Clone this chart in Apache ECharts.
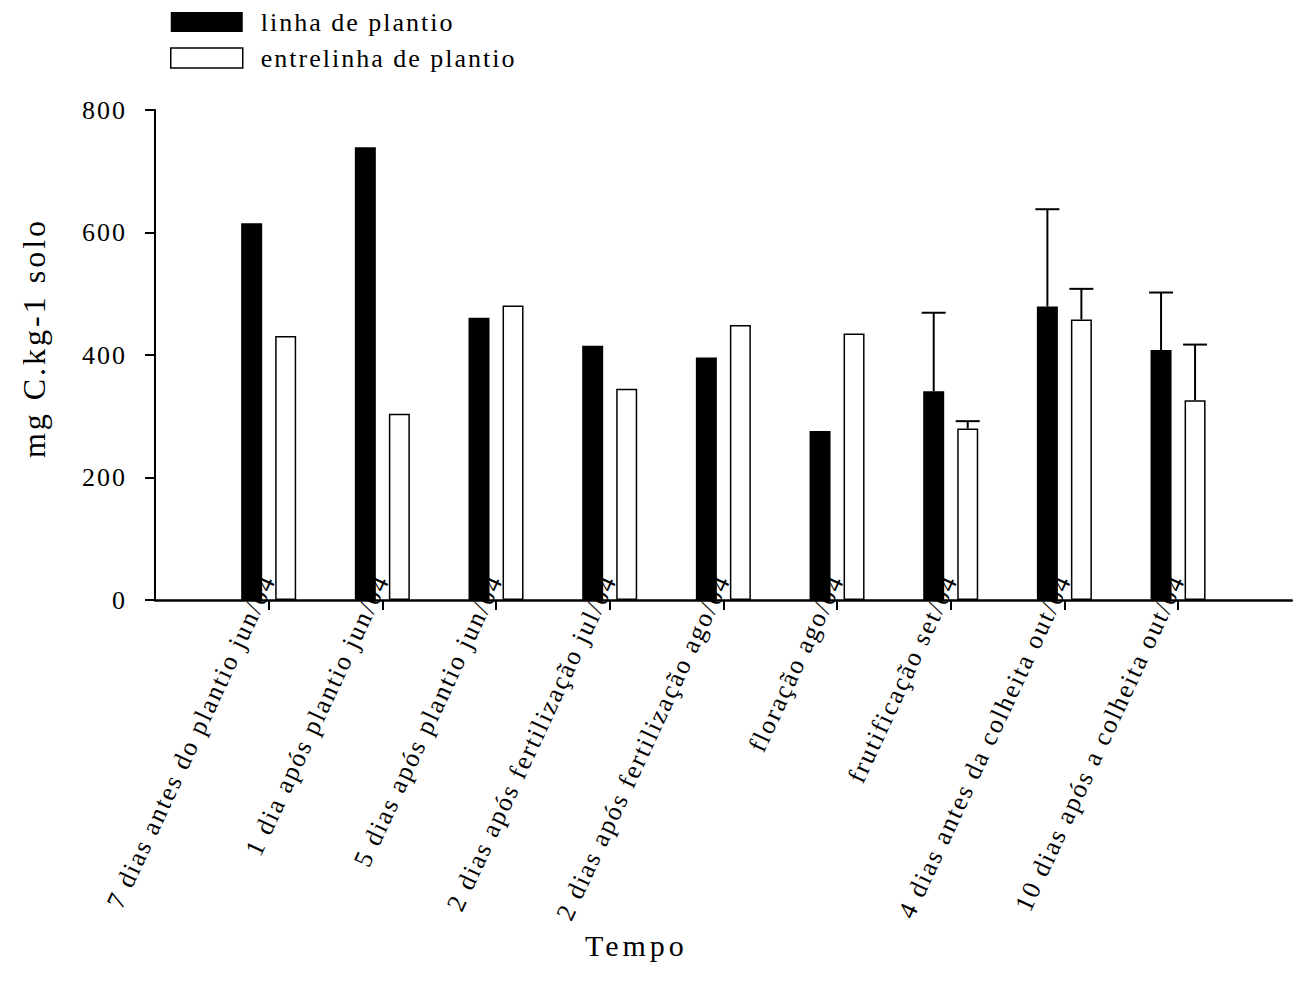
<!DOCTYPE html>
<html>
<head>
<meta charset="utf-8">
<script src="https://cdn.jsdelivr.net/npm/echarts@6/dist/echarts.min.js"></script>
<style>
html,body{margin:0;padding:0;background:#fff;}
#chart{width:1293px;height:990px;}
#chart text{letter-spacing:2px;}
#chart text[style*="32px"]{letter-spacing:3px;}
#chart text[style*="30px"]{letter-spacing:4px;}
</style>
</head>
<body>
<div id="chart"></div>
<script>
const categories = [
  '7 dias antes do plantio jun/04',
  '1 dia após plantio jun/04',
  '5 dias após plantio jun/04',
  '2 dias após fertilização jul/04',
  '2 dias após fertilização ago/04',
  'floração ago/04',
  'frutificação set/04',
  '4 dias antes da colheita out/04',
  '10 dias após a colheita out/04'
];
const linhaValues = [615, 739, 461, 415, 396, 276, 341, 479, 408];
const entrelinhaValues = [431, 304, 481, 345, 449, 435, 280, 458, 326];
const linhaSD = [null, null, null, null, null, null, 128, 159, 94];
const entrelinhaSD = [null, null, null, null, null, null, 12, 50, 91];
const yTicks = [0, 200, 400, 600, 800];
const seriesNames = ['linha de plantio', 'entrelinha de plantio'];

const FONT = "'Liberation Serif', 'Times New Roman', serif";
const axisData = [''].concat(categories, ['']);
const pad = arr => [null].concat(arr, [null]);

function errData(vals, sds) {
  const out = [];
  vals.forEach((v, i) => { if (sds[i] != null) out.push([i + 1, v, v + sds[i]]); });
  return out;
}
function errRender(offset) {
  return function (params, api) {
    const base = api.coord([api.value(0), api.value(1)]);
    const top = api.coord([api.value(0), api.value(2)]);
    const x = base[0] + offset;
    const st = { stroke: '#000', lineWidth: 2 };
    return {
      type: 'group',
      children: [
        { type: 'line', shape: { x1: x, y1: base[1], x2: x, y2: top[1] }, style: st },
        { type: 'line', shape: { x1: x - 12, y1: top[1], x2: x + 12, y2: top[1] }, style: st }
      ]
    };
  };
}

const chart = echarts.init(document.getElementById('chart'), null, { renderer: 'svg' });
chart.setOption({
  animation: false,
  backgroundColor: '#fff',
  legend: {
    orient: 'vertical',
    left: 165,
    top: 4,
    itemWidth: 72,
    itemHeight: 20,
    itemGap: 10,
    icon: 'rect',
    textStyle: { fontFamily: FONT, fontSize: 26, color: '#000', padding: [0, 0, 0, 13] },
    data: [
      { name: seriesNames[0], itemStyle: { color: '#000', borderWidth: 0 } },
      { name: seriesNames[1], itemStyle: { color: '#fff', borderColor: '#000', borderWidth: 1.5 } }
    ]
  },
  grid: { left: 155, right: -7, top: 110, bottom: 390, containLabel: false },
  xAxis: {
    type: 'category',
    z: 0,
    data: axisData,
    boundaryGap: false,
    axisLine: { lineStyle: { color: '#000', width: 2.5 } },
    axisTick: { length: 10, lineStyle: { color: '#000', width: 2 }, interval: (i) => i > 0 && i < axisData.length - 1 },
    axisLabel: { interval: 0, rotate: 65, margin: -24, fontFamily: FONT, fontSize: 26, color: '#000' },
    splitLine: { show: false },
    name: 'Tempo',
    nameLocation: 'middle',
    nameGap: 330,
    nameTextStyle: { fontFamily: FONT, fontSize: 30, color: '#000', padding: [0, 174, 0, 0] }
  },
  yAxis: {
    type: 'value',
    z: 20,
    min: yTicks[0],
    max: yTicks[yTicks.length - 1],
    interval: 200,
    axisLine: { show: true, lineStyle: { color: '#000', width: 2 } },
    axisTick: { show: true, length: 10, lineStyle: { color: '#000', width: 2 } },
    axisLabel: { margin: 28, fontFamily: FONT, fontSize: 26, color: '#000' },
    splitLine: { show: false },
    name: 'mg C.kg-1 solo',
    nameLocation: 'middle',
    nameGap: 105,
    nameRotate: 90,
    nameTextStyle: { fontFamily: FONT, fontSize: 32, color: '#000', padding: [0, 0, 0, 34] }
  },
  series: [
    {
      name: seriesNames[0],
      type: 'bar',
      z: 10,
      data: pad(linhaValues),
      barWidth: 21,
      barGap: '62%',
      itemStyle: { color: '#000' }
    },
    {
      name: seriesNames[1],
      type: 'bar',
      z: 10,
      data: pad(entrelinhaValues),
      barWidth: 21,
      barGap: '62%',
      itemStyle: { color: '#fff', borderColor: '#000', borderWidth: 1.5 }
    },
    {
      type: 'custom',
      name: 'sd1',
      z: 11,
      data: errData(linhaValues, linhaSD),
      renderItem: errRender(-17)
    },
    {
      type: 'custom',
      name: 'sd2',
      z: 11,
      data: errData(entrelinhaValues, entrelinhaSD),
      renderItem: errRender(17)
    }
  ]
});
</script>
</body>
</html>
